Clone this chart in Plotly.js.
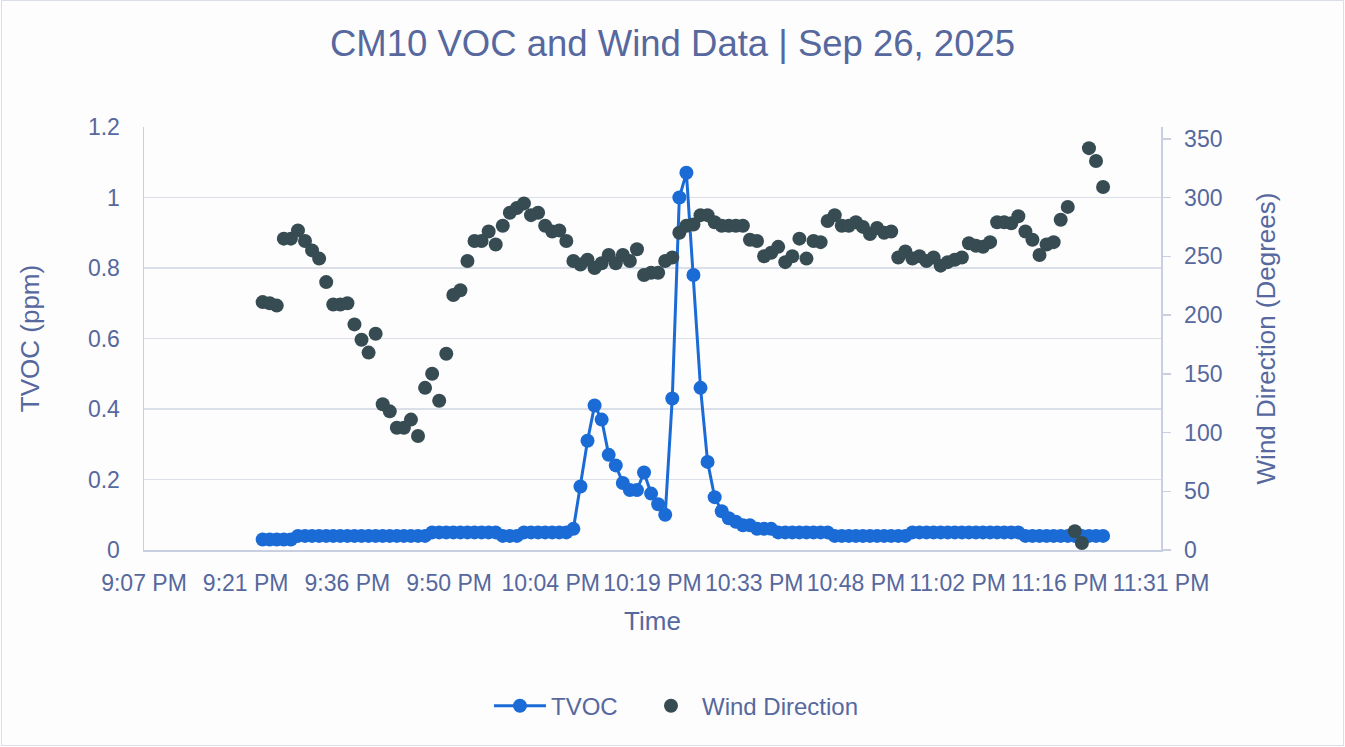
<!DOCTYPE html>
<html>
<head>
<meta charset="utf-8">
<script src="https://cdn.plot.ly/plotly-3.0.1.min.js"></script>
<style>
  html, body { margin: 0; padding: 0; background: #fdfdfe; }
  #wrap { position: relative; width: 1345px; height: 747px; }
  #chart { width: 1345px; height: 747px; }
  #frame { position: absolute; left: 1px; top: 0px; width: 1343px; height: 746px;
           box-sizing: border-box; border: 1.5px solid #d9deea; pointer-events: none; }
</style>
</head>
<body>
<div id="wrap"><div id="chart"></div><div id="frame"></div></div>
<script>
// Sample times (one reading per minute)
const times = [
  "21:24","21:25","21:26","21:27","21:28","21:29","21:30","21:31","21:32","21:33",
  "21:34","21:35","21:36","21:37","21:38","21:39","21:40","21:41","21:42","21:43",
  "21:44","21:45","21:46","21:47","21:48","21:49","21:50","21:51","21:52","21:53",
  "21:54","21:55","21:56","21:57","21:58","21:59","22:00","22:01","22:02","22:03",
  "22:04","22:05","22:06","22:07","22:08","22:09","22:10","22:11","22:12","22:13",
  "22:14","22:15","22:16","22:17","22:18","22:19","22:20","22:21","22:22","22:23",
  "22:24","22:25","22:26","22:27","22:28","22:29","22:30","22:31","22:32","22:33",
  "22:34","22:35","22:36","22:37","22:38","22:39","22:40","22:41","22:42","22:43",
  "22:44","22:45","22:46","22:47","22:48","22:49","22:50","22:51","22:52","22:53",
  "22:54","22:55","22:56","22:57","22:58","22:59","23:00","23:01","23:02","23:03",
  "23:04","23:05","23:06","23:07","23:08","23:09","23:10","23:11","23:12","23:13",
  "23:14","23:15","23:16","23:17","23:18","23:19","23:20","23:21","23:22","23:23"
];

// TVOC (ppm)
const tvoc = [
  0.03,0.03,0.03,0.03,0.03,0.04,0.04,0.04,0.04,0.04,
  0.04,0.04,0.04,0.04,0.04,0.04,0.04,0.04,0.04,0.04,
  0.04,0.04,0.04,0.04,0.05,0.05,0.05,0.05,0.05,0.05,
  0.05,0.05,0.05,0.05,0.04,0.04,0.04,0.05,0.05,0.05,
  0.05,0.05,0.05,0.05,0.06,0.18,0.31,0.41,0.37,0.27,
  0.24,0.19,0.17,0.17,0.22,0.16,0.13,0.10,0.43,1.00,
  1.07,0.78,0.46,0.25,0.15,0.11,0.09,0.08,0.07,0.07,
  0.06,0.06,0.06,0.05,0.05,0.05,0.05,0.05,0.05,0.05,
  0.05,0.04,0.04,0.04,0.04,0.04,0.04,0.04,0.04,0.04,
  0.04,0.04,0.05,0.05,0.05,0.05,0.05,0.05,0.05,0.05,
  0.05,0.05,0.05,0.05,0.05,0.05,0.05,0.05,0.04,0.04,
  0.04,0.04,0.04,0.04,0.04,0.04,0.04,0.04,0.04,0.04
];

// Wind direction (degrees)
const windDir = [
  211,210,208,265,265,272,263,255,248,228,
  209,209,210,192,179,168,184,124,118,104,
  104,111,97,138,150,127,167,217,221,246,
  263,263,271,260,276,287,291,295,285,287,
  276,271,272,263,246,243,247,240,244,251,
  244,251,246,256,234,236,236,246,249,270,
  276,277,285,285,279,276,276,276,276,264,
  263,250,253,258,245,250,265,248,263,262,
  280,285,276,276,279,275,269,274,270,271,
  249,254,248,250,246,249,242,245,247,249,
  261,259,258,262,279,279,278,284,271,264,
  251,260,262,281,292,16,6,342,331,309
];

// X axis ticks (minutes after midnight) and their labels
const xTickMinutes = [1267.2,1281.6,1296,1310.4,1324.8,1339.2,1353.6,1368,1382.4,1396.8,1411.2];
const xTickLabels = ["9:07 PM","9:21 PM","9:36 PM","9:50 PM","10:04 PM","10:19 PM",
                     "10:33 PM","10:48 PM","11:02 PM","11:16 PM","11:31 PM"];
const windTicks = [0,50,100,150,200,250,300,350];

const xMin = times.map(t => { const p = t.split(":"); return (+p[0]) * 60 + (+p[1]); });

const TXT = "#56689d";
const FONT = "Liberation Sans, Arial, sans-serif";
const GRID = "#dadfea";
const LINE = "#c7cfe1";

const traces = [
  {
    x: xMin, y: tvoc, name: "TVOC", type: "scatter", mode: "lines+markers",
    line: { color: "#1b6bd6", width: 3 },
    marker: { color: "#1b6bd6", size: 14 },
    yaxis: "y", legend: "legend", hoverinfo: "x+y"
  },
  {
    x: xMin, y: windDir, name: "Wind Direction", type: "scatter", mode: "markers",
    marker: { color: "#374c52", size: 14 },
    yaxis: "y2", legend: "legend2", hoverinfo: "x+y"
  }
];

const legendCommon = {
  orientation: "h", xanchor: "left", y: -0.369, yanchor: "middle",
  font: { family: FONT, size: 24, color: TXT }, bgcolor: "rgba(0,0,0,0)",
  itemwidth: 52
};

const layout = {
  width: 1345, height: 747,
  paper_bgcolor: "#fdfdfe", plot_bgcolor: "#fdfdfe",
  margin: { l: 144, r: 184, t: 127, b: 197 },
  font: { family: FONT, color: TXT, size: 23 },
  title: {
    text: "CM10 VOC and Wind Data | Sep 26, 2025",
    font: { family: FONT, size: 36.5, color: TXT },
    x: 0.5, xref: "container", xanchor: "center",
    y: 0.942, yref: "container", yanchor: "middle"
  },
  xaxis: {
    range: [xTickMinutes[0], xTickMinutes[xTickMinutes.length - 1]],
    tickmode: "array", tickvals: xTickMinutes, ticktext: xTickLabels,
    showgrid: false, zeroline: false,
    showline: true, linecolor: LINE, linewidth: 1.5,
    ticks: "", ticklabelstandoff: 12,
    tickfont: { family: FONT, size: 23, color: TXT },
    title: { text: "Time", font: { family: FONT, size: 26, color: TXT }, standoff: 16 }
  },
  yaxis: {
    range: [0, 1.2], dtick: 0.2, tick0: 0,
    showgrid: true, gridcolor: GRID, gridwidth: 1.5,
    zeroline: false, showline: true, linecolor: LINE, linewidth: 1.5,
    ticks: "", ticklabelstandoff: 18,
    tickfont: { family: FONT, size: 23, color: TXT },
    title: { text: "TVOC (ppm)", font: { family: FONT, size: 26, color: TXT }, standoff: 41 }
  },
  yaxis2: {
    range: [0, 360], overlaying: "y", side: "right",
    tickmode: "array", tickvals: windTicks,
    showgrid: false, zeroline: false,
    showline: true, linecolor: LINE, linewidth: 1.5,
    ticks: "outside", ticklen: 8, tickcolor: LINE, tickwidth: 1.5,
    ticklabelstandoff: 9,
    tickfont: { family: FONT, size: 23, color: TXT },
    title: { text: "Wind Direction (Degrees)", font: { family: FONT, size: 26, color: TXT }, standoff: 35 }
  },
  legend: Object.assign({}, legendCommon, { x: 0.3392 }),
  legend2: Object.assign({}, legendCommon, { x: 0.4877 }),
  showlegend: true
};

Plotly.newPlot("chart", traces, layout, { displayModeBar: false, staticPlot: true });
</script>
</body>
</html>
